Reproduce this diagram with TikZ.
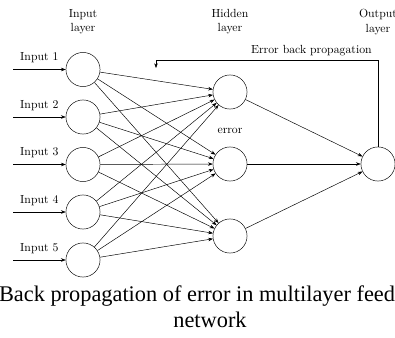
\documentclass[tikz,border=0pt]{standalone}
\usepackage{fontspec}
\newfontfamily\capfont{Liberation Serif}
\usetikzlibrary{arrows.meta}

\begin{document}
\begin{tikzpicture}[x=0.85pt,y=-0.85pt,
  neuron/.style={draw,circle,minimum size=29pt,inner sep=0pt},
  conn/.style={-{Stealth[length=4pt,width=3pt]}},
  caption/.style={font=\capfont\fontsize{19}{23}\selectfont,anchor=base}]
\clip (0,0) rectangle (395,338);
\node[align=center] (inlab) at (83,22) {Input\\layer};
\node[align=center] (hidlab) at (230,22) {Hidden\\layer};
\node[align=center] (outlab) at (378,22) {Output\\layer};
\foreach \i/\y in {1/69.5,2/117,3/164.5,4/212,5/260}{
	\node[neuron] (in\i) at (83,\y) {};
	\coordinate (s\i) at (13,\y);
	\draw[conn] (s\i) -- node[above,yshift=2pt] {Input \i} (in\i);}
\foreach \j/\y in {1/92,2/164,3/236}
	\node[neuron] (hid\j) at (230,\y) {};
\node[neuron] (out) at (378,164) {};
\node (err) at (230,131) {error};
\foreach \i in {1,...,5}
	\foreach \j in {1,2,3}
		\draw[conn] (in\i) -- (hid\j);
\foreach \j in {1,2,3}
	\draw[conn] (hid\j) -- (out);
\coordinate (fbtop) at (156,60);
\coordinate (fb) at (156,68);
\draw[conn] (out.north) |- node[above,pos=0.65] {Error back propagation} (fbtop) -- (fb);
\node[caption] (cap1) at (197,301) {Back propagation of error in multilayer feed};
\node[caption] (cap2) at (210,327) {network};
\end{tikzpicture}
\end{document}
